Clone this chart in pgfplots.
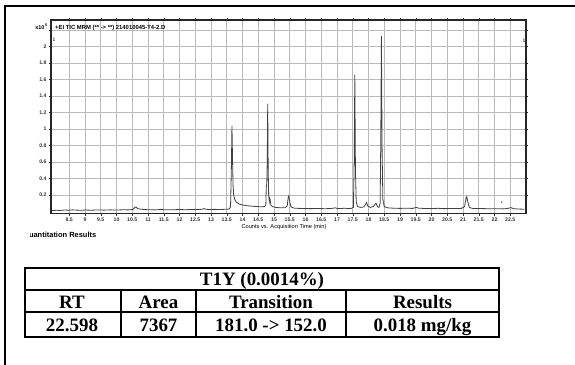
\documentclass[border=0pt]{standalone}
\usepackage{pgfplots}
\pgfplotsset{compat=1.18}
\usepackage{fontspec}
\setmainfont{Liberation Serif}
\newfontfamily\arial{Liberation Sans}
\begin{document}
\begin{tikzpicture}
\path[use as bounding box] (0,0) rectangle (575bp,-365bp);
\draw[line width=2bp] (5bp,-365bp) -- (5bp,-6bp) -- (575bp,-6bp);
\begin{axis}[
  at={(51bp,-20bp)}, anchor=north west, scale only axis,
  width=475bp, height=193.5bp,
  xmin=7.92, xmax=23.0, ymin=-0.024, ymax=2.324,
  axis line style={line width=1.3bp, black!85},
  grid=major, grid style={gray!55, line width=0.55bp},
  tick align=outside, major tick length=2bp,
  tick style={black!80, line width=0.5bp},
  xtick={8.5,9,9.5,10,10.5,11,11.5,12,12.5,13,13.5,14,14.5,15,15.5,16,16.5,17,17.5,18,18.5,19,19.5,20,20.5,21,21.5,22,22.5},
  xticklabels={8.5,9,9.5,10,10.5,11,11.5,12,12.5,13,13.5,14,14.5,15,15.5,16,16.5,17,17.5,18,18.5,19,19.5,20,20.5,21,21.5,22,22.5},
  ytick={0.2,0.4,0.6,0.8,1,1.2,1.4,1.6,1.8,2,2.2},
  yticklabels={0.2,0.4,0.6,0.8,1,1.2,1.4,1.6,1.8,2,{}},
  ticklabel style={font=\arial\bfseries\fontsize{5.2}{6}\selectfont, text=black!80},
  xticklabel style={yshift=1bp},
  yticklabel style={xshift=1bp},
  clip=true,
]
\addplot[black!75, line width=0.8bp] table {
7.95 0.012
8.1 0.015
8.2 0.013
8.35 0.018
8.5 0.016
8.6 0.02
8.75 0.017
8.9 0.015
9.0 0.018
9.2 0.016
9.4 0.019
9.6 0.017
9.8 0.02
10.0 0.018
10.2 0.021
10.4 0.02
10.52 0.025
10.58 0.05
10.62 0.055
10.67 0.035
10.75 0.03
10.85 0.025
11.0 0.022
11.2 0.02
11.4 0.024
11.6 0.021
11.8 0.022
12.0 0.024
12.2 0.022
12.4 0.025
12.6 0.024
12.72 0.028
12.78 0.036
12.84 0.027
12.95 0.025
13.1 0.026
13.3 0.025
13.45 0.027
13.58 0.03
13.62 0.06
13.645 0.5
13.665 1.04
13.685 0.6
13.70 0.32
13.72 0.2
13.75 0.15
13.8 0.115
13.9 0.09
14.0 0.08
14.15 0.07
14.3 0.065
14.45 0.06
14.6 0.058
14.7 0.06
14.74 0.08
14.755 0.3
14.77 0.33
14.785 0.6
14.80 1.31
14.815 0.5
14.83 0.2
14.85 0.12
14.865 0.16
14.88 0.14
14.9 0.08
14.95 0.06
15.05 0.05
15.2 0.045
15.35 0.045
15.42 0.07
15.45 0.17
15.47 0.19
15.5 0.12
15.54 0.055
15.65 0.04
15.8 0.038
16.0 0.036
16.2 0.035
16.4 0.038
16.6 0.034
16.8 0.036
16.95 0.045
17.0 0.038
17.1 0.036
17.25 0.04
17.35 0.035
17.45 0.038
17.52 0.05
17.545 0.6
17.565 1.66
17.585 0.5
17.61 0.12
17.65 0.06
17.75 0.05
17.85 0.055
17.91 0.09
17.94 0.11
17.97 0.07
18.05 0.05
18.15 0.06
18.21 0.09
18.24 0.10
18.28 0.06
18.33 0.05
18.37 0.1
18.39 0.9
18.41 2.13
18.43 0.8
18.455 0.15
18.5 0.06
18.6 0.045
18.8 0.04
19.0 0.038
19.2 0.04
19.4 0.038
19.52 0.05
19.6 0.04
19.8 0.037
20.0 0.036
20.2 0.039
20.4 0.035
20.6 0.038
20.8 0.036
20.95 0.038
21.05 0.06
21.1 0.17
21.12 0.18
21.15 0.12
21.2 0.05
21.3 0.038
21.5 0.036
21.7 0.035
21.9 0.033
22.1 0.034
22.3 0.032
22.45 0.04
22.52 0.048
22.6 0.035
22.75 0.03
22.95 0.028
};
\addplot[only marks, mark=*, mark size=0.5bp, black!70] coordinates {(22.23,0.115)};
\end{axis}
% header texts
\node[anchor=base east, font=\arial\bfseries\fontsize{5.5}{6}\selectfont, inner sep=0pt] at (48bp,-29bp) {x10\textsuperscript{\,5}};
\node[anchor=base west, font=\arial\bfseries\fontsize{5.9}{7}\selectfont, inner sep=0pt] at (55bp,-29bp) {+EI TIC MRM (** -> **) 214010045-T4-2.D};
\node[anchor=base west, font=\arial\fontsize{5}{6}\selectfont, inner sep=0pt] at (52.5bp,-41bp) {1};
\node[anchor=base west, font=\arial\fontsize{5}{6}\selectfont, inner sep=0pt] at (522.5bp,-42bp) {1};
\node[anchor=base, font=\arial\fontsize{5.7}{6}\selectfont, inner sep=0pt] at (284bp,-228bp) {Counts vs. Acquisition Time (min)};
\begin{scope}
\clip (30bp,-226bp) rectangle (200bp,-236.5bp);
\node[anchor=base west, font=\arial\bfseries\fontsize{7.5}{8}\selectfont, inner sep=0pt] at (23bp,-237bp) {Quantitation Results};
\end{scope}
% table
\begin{scope}[line width=1.4bp]
\draw (25bp,-268bp) rectangle (499bp,-337bp);
\draw (25bp,-290bp) -- (499bp,-290bp);
\draw (25bp,-312bp) -- (499bp,-312bp);
\draw (121bp,-290bp) -- (121bp,-337bp);
\draw (196bp,-290bp) -- (196bp,-337bp);
\draw (346bp,-290bp) -- (346bp,-337bp);
\end{scope}
\begin{scope}[every node/.style={anchor=base, inner sep=0pt, font=\bfseries\fontsize{19}{21}\selectfont}]
\node at (262bp,-285bp) {T1Y (0.0014\%)};
\node at (72bp,-308.5bp) {RT};
\node at (158.5bp,-308.5bp) {Area};
\node at (271bp,-308.5bp) {Transition};
\node at (422.5bp,-308.5bp) {Results};
\node at (72bp,-331.5bp) {22.598};
\node at (158.5bp,-331.5bp) {7367};
\node at (271bp,-331.5bp) {181.0 -> 152.0};
\node at (422.5bp,-331.5bp) {0.018 mg/kg};
\end{scope}
\end{tikzpicture}
\end{document}
